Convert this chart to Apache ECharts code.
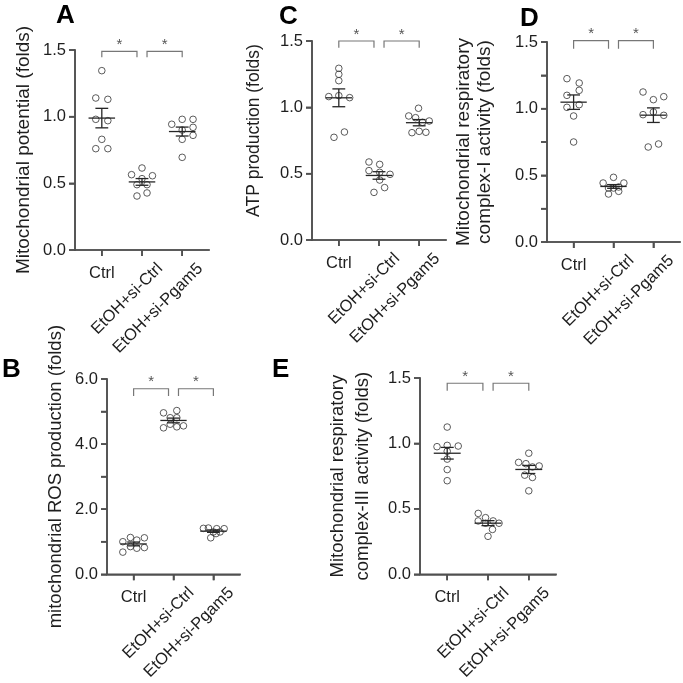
<!DOCTYPE html>
<html><head><meta charset="utf-8">
<script src="https://cdn.jsdelivr.net/npm/echarts@6/dist/echarts.min.js"></script>
<style>html,body{margin:0;padding:0;background:#fff}#c{width:683px;height:683px}</style>
</head><body><div id="c"></div>
<script>
// ---------- DATA ----------
const categories = ['Ctrl', 'EtOH+si-Ctrl', 'EtOH+si-Pgam5'];
const comparisons = [[0, 1], [1, 2]];

// A: Mitochondrial potential (folds)
const aValues = [
  [1.345, 1.14, 1.13, 0.98, 0.97, 0.83, 0.76, 0.76],
  [0.615, 0.565, 0.557, 0.535, 0.49, 0.49, 0.405, 0.428],
  [0.943, 0.98, 0.98, 0.90, 0.92, 0.83, 0.86, 0.695]
];
const aOffsets = [
  [0, -0.15, 0.15, -0.15, 0.15, 0, -0.15, 0.15],
  [0, -0.26, 0.26, 0, -0.125, 0.125, -0.125, 0.125],
  [-0.26, 0, 0.27, 0, 0.27, 0, 0.27, 0]
];
const aTicks = [0.0, 0.5, 1.0, 1.5];

// B: mitochondrial ROS production (folds)
const bValues = [
  [1.13, 1.12, 1.0, 1.05, 0.85, 0.8, 0.82, 0.68],
  [4.96, 5.03, 4.81, 4.81, 4.5, 4.61, 4.53, 4.56],
  [1.41, 1.42, 1.40, 1.40, 1.30, 1.30, 1.25, 1.12]
];
const bOffsets = [
  [-0.08, 0.27, -0.27, 0.08, -0.08, 0.08, 0.27, -0.27],
  [-0.25, 0.083, -0.083, 0.083, -0.25, -0.083, 0.083, 0.25],
  [-0.25, -0.125, 0.083, 0.27, 0, 0.167, 0.067, -0.067]
];
const bTicks = [0.0, 2.0, 4.0, 6.0];

// C: ATP production (folds)
const cValues = [
  [1.294, 1.249, 1.201, 1.081, 1.088, 1.073, 0.814, 0.774],
  [0.588, 0.570, 0.523, 0.510, 0.495, 0.452, 0.395, 0.359],
  [0.993, 0.935, 0.922, 0.887, 0.897, 0.809, 0.819, 0.812]
];
const cOffsets = [
  [0, 0, 0, -0.25, 0, 0.27, 0.14, -0.12],
  [-0.25, 0.017, -0.25, 0.017, 0.275, 0.017, 0.14, -0.125],
  [-0.017, -0.26, -0.09, 0.083, 0.25, -0.18, 0, 0.167]
];
const cTicks = [0.0, 0.5, 1.0, 1.5];

// D: Mitochondrial respiratory complex-I activity (folds)
const dValues = [
  [1.225, 1.1925, 1.1375, 1.10, 1.01, 1.03, 0.945, 0.75],
  [0.485, 0.4425, 0.4425, 0.405, 0.4125, 0.36, 0.38, 0.405],
  [1.125, 1.0675, 1.09, 0.955, 0.975, 0.95, 0.7125, 0.735]
];
const dOffsets = [
  [-0.167, 0.14, 0.14, -0.167, -0.167, 0.14, 0, 0],
  [0, -0.26, 0.26, -0.125, 0.13, -0.125, 0.13, 0],
  [-0.26, 0, 0.26, -0.26, 0, 0.26, -0.13, 0.13]
];
const dTicks = [0.0, 0.5, 1.0, 1.5];

// E: Mitochondrial respiratory complex-III activity (folds)
const eValues = [
  [1.125, 0.975, 0.985, 0.98, 0.94, 0.88, 0.8, 0.715],
  [0.465, 0.4325, 0.4075, 0.39, 0.4075, 0.39, 0.3425, 0.29],
  [0.925, 0.855, 0.845, 0.82, 0.8275, 0.7575, 0.74, 0.6375]
];
const eOffsets = [
  [0, -0.25, 0, 0.27, 0, 0, 0, 0],
  [-0.24, -0.06, -0.24, -0.06, 0.125, 0.27, 0.11, 0],
  [0, -0.25, -0.07, 0.09, 0.255, -0.1, 0.09, 0]
];
const eTicks = [0.0, 0.5, 1.0, 1.5];

// ---------- LAYOUT / STYLE ----------
const FONT = '"Liberation Sans", Arial, Helvetica, sans-serif';
const panels = [
  { letter: 'A', values: aValues, offsets: aOffsets, ticks: aTicks, minorStep: 0.5,
    title: 'Mitochondrial potential (folds)',
    grid: { left: 75, top: 50, width: 134, height: 200 },
    nameGap: 41, nameSize: 19, nameLH: 21, namePad: [0, 0, 0, 0],
    bracketTop: 1.49, bracketDrop: 0.045, letterPos: { left: 56, top: 3 } },
  { letter: 'B', values: bValues, offsets: bOffsets, ticks: bTicks, minorStep: 1.0,
    title: 'mitochondrial ROS production (folds)',
    grid: { left: 107, top: 379, width: 133, height: 200 },
    nameGap: 41, nameSize: 18.5, nameLH: 21, namePad: [0, 0, 0, 0],
    bracketTop: 5.7, bracketDrop: 0.22, letterPos: { left: 2, top: 357 } },
  { letter: 'C', values: cValues, offsets: cOffsets, ticks: cTicks, minorStep: 0.5,
    title: 'ATP production (folds)',
    grid: { left: 312, top: 41, width: 134, height: 199 },
    nameGap: 48, nameSize: 17.5, nameLH: 20, namePad: [0, 0, 0, 20],
    bracketTop: 1.5, bracketDrop: 0.05, letterPos: { left: 279, top: 4 } },
  { letter: 'D', values: dValues, offsets: dOffsets, ticks: dTicks, minorStep: 0.25,
    title: 'Mitochondrial respiratory\ncomplex-I activity (folds)',
    grid: { left: 547, top: 42, width: 133, height: 200 },
    nameGap: 52, nameSize: 19, nameLH: 21, namePad: [0, 0, 0, 0],
    bracketTop: 1.51, bracketDrop: 0.06, letterPos: { left: 520, top: 6 } },
  { letter: 'E', values: eValues, offsets: eOffsets, ticks: eTicks, minorStep: 0.5,
    title: 'Mitochondrial respiratory\ncomplex-III activity (folds)',
    grid: { left: 420, top: 378, width: 136, height: 200 },
    nameGap: 45, nameSize: 18.5, nameLH: 25, namePad: [0, 0, 0, 0],
    bracketTop: 1.46, bracketDrop: 0.057, letterPos: { left: 272, top: 357 } }
];

const X_MIN = -0.667, X_MAX = 2.667, LABEL_SHIFT = 0.45;
const MEAN_HALF = 0.33, CAP_HALF = 0.16, BRACKET_GAP = 0.125, TICK_LEN = 6, AXIS_W = 1.6;
const AXIS_COLOR = '#505050', TEXT_COLOR = '#1e1e1e';

function meanSem(arr) {
  const n = arr.length;
  const m = arr.reduce((a, b) => a + b, 0) / n;
  const v = arr.reduce((a, b) => a + (b - m) * (b - m), 0) / (n - 1);
  return [m, Math.sqrt(v / n)];
}

function seg(a, b, st) {
  return { type: 'line', shape: { x1: a[0], y1: a[1], x2: b[0], y2: b[1] }, style: st };
}

function statsRender(params, api) {
  const x = api.value(0), m = api.value(1), s = api.value(2);
  const st = { stroke: '#262626', lineWidth: 1.3 };
  return { type: 'group', children: [
    seg(api.coord([x - MEAN_HALF, m]), api.coord([x + MEAN_HALF, m]), st),
    seg(api.coord([x, m + s]), api.coord([x, m - s]), st),
    seg(api.coord([x - CAP_HALF, m + s]), api.coord([x + CAP_HALF, m + s]), st),
    seg(api.coord([x - CAP_HALF, m - s]), api.coord([x + CAP_HALF, m - s]), st)
  ] };
}

function bracketRender(params, api) {
  const i = api.value(0), j = api.value(1), top = api.value(2), drop = api.value(3);
  const x1 = i + (i === 1 ? BRACKET_GAP : 0);
  const x2 = j - (j === 1 ? BRACKET_GAP : 0);
  const p1 = api.coord([x1, top - drop]), p2 = api.coord([x1, top]);
  const p3 = api.coord([x2, top]), p4 = api.coord([x2, top - drop]);
  return { type: 'group', children: [
    { type: 'polyline', shape: { points: [p1, p2, p3, p4] },
      style: { stroke: '#777777', lineWidth: 1.2, fill: null } },
    { type: 'text', style: { text: '*', x: (p2[0] + p3[0]) / 2, y: p2[1] + 1,
      align: 'center', verticalAlign: 'bottom', fontSize: 15, fontFamily: FONT, fill: '#555555' } }
  ] };
}

// axis frame drawn as thin filled rectangles, placed through the axes' own scales
function makeFrameRender(yTickValues, yMax) {
  return function (params, api) {
    const fillSt = { fill: AXIS_COLOR, stroke: null };
    const o = api.coord([X_MIN, 0]);
    const yTop = api.coord([X_MIN, yMax]);
    const xEnd = api.coord([X_MAX, 0]);
    const h = AXIS_W / 2;
    const children = [
      { type: 'rect', shape: { x: o[0] - h, y: yTop[1] - h, width: AXIS_W, height: o[1] - yTop[1] + AXIS_W }, style: fillSt },
      { type: 'rect', shape: { x: o[0] - h, y: o[1] - h, width: xEnd[0] - o[0] + AXIS_W, height: AXIS_W }, style: fillSt }
    ];
    [0, 1, 2].forEach(c => {
      const p = api.coord([c, 0]);
      children.push({ type: 'rect', shape: { x: p[0] - h, y: p[1], width: AXIS_W, height: TICK_LEN }, style: fillSt });
    });
    yTickValues.forEach(v => {
      const p = api.coord([X_MIN, v]);
      children.push({ type: 'rect', shape: { x: p[0] - TICK_LEN, y: p[1] - h, width: TICK_LEN, height: AXIS_W }, style: fillSt });
    });
    return { type: 'group', children };
  };
}

const option = { animation: false,
  title: [], grid: [], xAxis: [], yAxis: [], series: [] };

panels.forEach((p, k) => {
  option.title.push({ text: p.letter, left: p.letterPos.left, top: p.letterPos.top, padding: 0,
    textStyle: { fontSize: 26, fontWeight: 'bold', fontFamily: FONT, color: '#000' } });
  option.grid.push({ left: p.grid.left, top: p.grid.top, width: p.grid.width, height: p.grid.height });
  const yMax = p.ticks[p.ticks.length - 1];
  const major = p.ticks[1] - p.ticks[0];
  const yTickValues = [];
  for (let v = 0; v <= yMax + 1e-9; v += p.minorStep) yTickValues.push(+v.toFixed(4));

  // main x axis (scale for marks)
  option.xAxis.push({ type: 'value', gridIndex: k, position: 'bottom', min: X_MIN, max: X_MAX,
    splitLine: { show: false },
    axisLine: { show: true, onZero: false, lineStyle: { color: AXIS_COLOR, width: AXIS_W } },
    axisTick: { show: true, length: TICK_LEN, customValues: [0, 1, 2],
      lineStyle: { color: AXIS_COLOR, width: AXIS_W } },
    axisLabel: { show: true, customValues: [0, 1, 2], formatter: () => '' } });
  // horizontal first-category label
  option.xAxis.push({ type: 'value', gridIndex: k, position: 'bottom', min: X_MIN, max: X_MAX,
    splitLine: { show: false },
    axisLine: { show: false, onZero: false }, axisTick: { show: false },
    axisLabel: { show: true, customValues: [0], margin: 15, fontSize: 16.5, fontFamily: FONT,
      color: TEXT_COLOR, formatter: v => categories[Math.round(v)] } });
  // rotated labels for the other categories
  option.xAxis.push({ type: 'value', gridIndex: k, position: 'bottom',
    min: X_MIN - LABEL_SHIFT, max: X_MAX - LABEL_SHIFT, splitLine: { show: false },
    axisLine: { show: false, onZero: false }, axisTick: { show: false },
    axisLabel: { show: true, customValues: [1, 2], rotate: 45, margin: 16, fontSize: 16.5,
      fontFamily: FONT, color: TEXT_COLOR, formatter: v => categories[Math.round(v)] } });
  option.yAxis.push({ type: 'value', gridIndex: k, position: 'left', min: 0, max: yMax,
    interval: p.minorStep, splitLine: { show: false },
    name: p.title, nameLocation: 'middle', nameGap: p.nameGap,
    nameTextStyle: { fontSize: p.nameSize, lineHeight: p.nameLH, fontFamily: FONT,
      color: TEXT_COLOR, padding: p.namePad },
    axisLine: { show: true, onZero: false, lineStyle: { color: AXIS_COLOR, width: AXIS_W } },
    axisTick: { show: true, length: TICK_LEN, lineStyle: { color: AXIS_COLOR, width: AXIS_W } },
    axisLabel: { margin: 9, fontSize: 16.5, fontFamily: FONT, color: TEXT_COLOR,
      formatter: v => (Math.abs(v / major - Math.round(v / major)) < 1e-6 ? v.toFixed(1) : '') } });

  option.series.push({ type: 'custom', xAxisIndex: 3 * k, yAxisIndex: k, data: [[1, 1]], z: 10,
    clip: false, renderItem: makeFrameRender(yTickValues, yMax) });
  const pts = [];
  p.values.forEach((grp, i) => grp.forEach((v, n) => pts.push([i + p.offsets[i][n], v])));
  option.series.push({ type: 'scatter', xAxisIndex: 3 * k, yAxisIndex: k, data: pts,
    symbol: 'circle', symbolSize: 6.6, z: 2,
    itemStyle: { color: 'rgba(255,255,255,0)', borderColor: '#333333', borderWidth: 1 } });
  const stats = p.values.map((grp, i) => { const ms = meanSem(grp); return [i, ms[0], ms[1]]; });
  option.series.push({ type: 'custom', xAxisIndex: 3 * k, yAxisIndex: k, data: stats, z: 3,
    renderItem: statsRender });
  option.series.push({ type: 'custom', xAxisIndex: 3 * k, yAxisIndex: k, z: 3, clip: false,
    data: comparisons.map(c => [c[0], c[1], p.bracketTop, p.bracketDrop]),
    renderItem: bracketRender });
});

const chart = echarts.init(document.getElementById('c'));
chart.setOption(option);
</script>
</body></html>
